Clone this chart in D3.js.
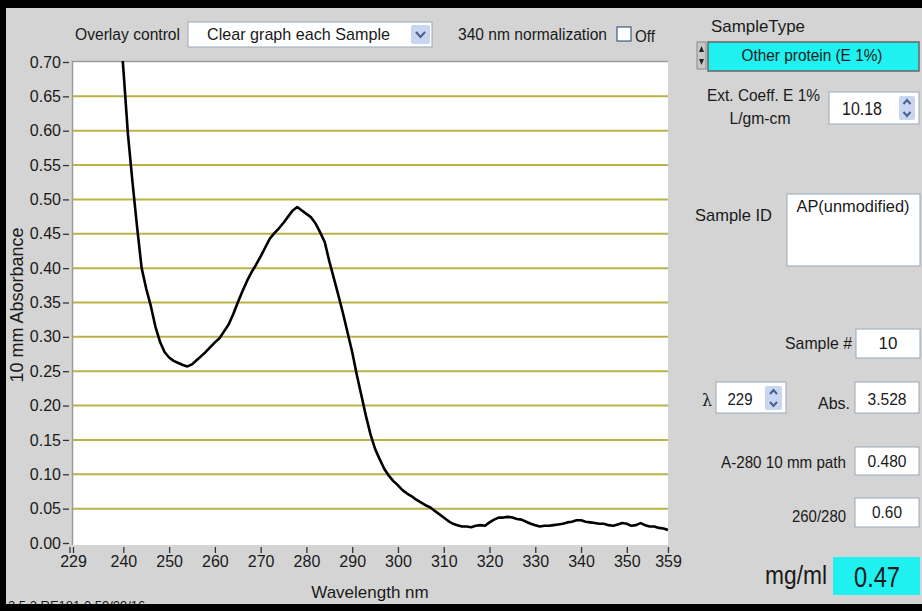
<!DOCTYPE html>
<html><head><meta charset="utf-8">
<script src="https://cdn.jsdelivr.net/npm/d3@7"></script>
<style>
html,body{margin:0;padding:0;background:#d4d4d4;}
svg{display:block;}
text{font-family:'Liberation Sans Narrow','Arial Narrow','Liberation Sans',sans-serif;fill:#1a1a1a;}
</style></head>
<body>
<svg id="c" width="922" height="611"></svg>
<script>
// ---------- data ----------
const wavelengths = [239,240,241,242,243,244,245,246,247,248,249,250,251,252,253,254,255,256,257,258,259,260,261,262,263,264,265,266,267,268,269,270,271,272,273,274,275,276,277,278,279,280,281,282,283,284,285,286,287,288,289,290,291,292,293,294,295,296,297,298,299,300,301,302,303,304,305,306,307,308,309,310,311,312,313,314,315,316,317,318,319,320,321,322,323,324,325,326,327,328,329,330,331,332,333,334,335,336,337,338,339,340,341,342,343,344,345,346,347,348,349,350,351,352,353,354,355,356,357,358,359];
const absorbance = [0.78,0.69,0.595,0.525,0.46,0.40,0.37,0.345,0.315,0.293,0.278,0.270,0.265,0.262,0.259,0.257,0.260,0.266,0.272,0.278,0.285,0.292,0.298,0.308,0.318,0.333,0.350,0.366,0.381,0.394,0.405,0.417,0.430,0.443,0.451,0.458,0.466,0.475,0.484,0.489,0.484,0.479,0.474,0.465,0.452,0.438,0.410,0.385,0.360,0.334,0.306,0.278,0.245,0.215,0.185,0.158,0.137,0.122,0.108,0.098,0.090,0.084,0.077,0.072,0.068,0.063,0.059,0.055,0.052,0.047,0.042,0.037,0.032,0.028,0.026,0.024,0.024,0.023,0.025,0.026,0.025,0.030,0.034,0.037,0.037,0.038,0.037,0.035,0.034,0.031,0.028,0.026,0.024,0.025,0.025,0.026,0.027,0.028,0.030,0.031,0.033,0.033,0.031,0.030,0.029,0.028,0.028,0.026,0.025,0.027,0.029,0.028,0.025,0.026,0.029,0.026,0.024,0.024,0.022,0.021,0.019];
const xTickValues = [229,240,250,260,270,280,290,300,310,320,330,340,350,359];
const yTickValues = [0.00,0.05,0.10,0.15,0.20,0.25,0.30,0.35,0.40,0.45,0.50,0.55,0.60,0.65,0.70];
const gridValues = [0.05,0.10,0.15,0.20,0.25,0.30,0.35,0.40,0.45,0.50,0.55,0.60,0.65];
const xDomain = [229,359];
const yDomain = [0,0.70];

const svg = d3.select('#c');
const W=922,H=611;
const P = {left:72, right:668, top:61, bottom:545};
const x = d3.scaleLinear().domain(xDomain).range([P.left+1, P.right]);
const y = d3.scaleLinear().domain(yDomain).range([543, 62]);

// background & frame
svg.append('rect').attr('width',W).attr('height',H).attr('fill','#d4d4d4');
svg.append('rect').attr('x',0).attr('y',0).attr('width',W).attr('height',8).attr('fill','#000');
svg.append('rect').attr('x',0).attr('y',0).attr('width',6).attr('height',H).attr('fill','#000');

// plot area
svg.append('rect').attr('x',P.left).attr('y',P.top).attr('width',P.right-P.left).attr('height',P.bottom-P.top).attr('fill','#fff');
svg.append('path').attr('d',`M${P.left+0.5},${P.bottom}V${P.top+0.5}H${P.right}`).attr('fill','none').attr('stroke','#9a9a9a').attr('stroke-width',1.5);

// grid
svg.append('g').selectAll('line').data(gridValues).join('line')
  .attr('x1',P.left+1).attr('x2',P.right).attr('y1',d=>y(d)).attr('y2',d=>y(d))
  .attr('stroke','#bab247').attr('stroke-width',2);

// axes
const yAxis = svg.append('g').attr('transform',`translate(${P.left-3},0)`)
  .call(d3.axisLeft(y).tickValues(yTickValues).tickFormat(d3.format('.2f')).tickSize(6).tickPadding(2));
const xAxis = svg.append('g').attr('transform',`translate(0,${P.bottom+2})`)
  .call(d3.axisBottom(x).tickValues(xTickValues).tickFormat(d3.format('d')).tickSize(6).tickPadding(3));
[yAxis,xAxis].forEach(a=>{
  a.select('.domain').remove();
  a.selectAll('line').attr('stroke','#333').attr('stroke-width',1.3);
  a.selectAll('text').attr('font-size',16).attr('fill','#1a1a1a')
    .style('font-family',"'Liberation Sans Narrow','Arial Narrow','Liberation Sans',sans-serif");
});
// double tick at left end
xAxis.append('line').attr('x1',x(229)-3).attr('x2',x(229)-3).attr('y1',0).attr('y2',6).attr('stroke','#333').attr('stroke-width',1.3);

// clip & curve
svg.append('clipPath').attr('id','clip').append('rect')
  .attr('x',P.left).attr('y',P.top).attr('width',P.right-P.left).attr('height',P.bottom-P.top);
const line = d3.line().x((d,i)=>x(wavelengths[i])).y(d=>y(d));
svg.append('path').datum(absorbance).attr('clip-path','url(#clip)')
  .attr('d',line).attr('fill','none').attr('stroke','#000').attr('stroke-width',2.6).attr('stroke-linejoin','round');

// axis titles
svg.append('text').attr('transform','translate(23,305) rotate(-90)').attr('text-anchor','middle')
  .attr('font-size',18).text('10 mm Absorbance');
svg.append('text').attr('x',370).attr('y',598).attr('text-anchor','middle').attr('font-size',17).text('Wavelength nm');

// bottom-left version text (partly hidden by the frame, as in the original)
svg.append('text').attr('x',8).attr('y',610).attr('font-size',13).text('2.5.2 RE181 0.59/09/16');
svg.append('rect').attr('x',0).attr('y',604).attr('width',W).attr('height',7).attr('fill','#000');

// ---------- controls ----------
function box(x0,y0,w,h,fill){
  return svg.append('rect').attr('x',x0).attr('y',y0).attr('width',w).attr('height',h)
    .attr('fill',fill||'#fff').attr('stroke','#9aa7b8').attr('stroke-width',1);
}
function label(x0,y0,t,size,anchor,len){
  const s = svg.append('text').attr('x',x0).attr('y',y0).attr('font-size',size||16)
    .attr('text-anchor',anchor||'start').text(t);
  if(len) s.attr('textLength',len).attr('lengthAdjust','spacingAndGlyphs');
  return s;
}
function spinner(x0,y0,w,h){
  svg.append('rect').attr('x',x0).attr('y',y0).attr('width',w).attr('height',h).attr('fill','#c8d6f2').attr('rx',2);
  const cx=x0+w/2, m=y0+h/2;
  svg.append('path').attr('d',`M${cx-3.5},${m-4}L${cx},${m-8}L${cx+3.5},${m-4}`).attr('fill','none').attr('stroke','#4a5f8a').attr('stroke-width',2);
  svg.append('path').attr('d',`M${cx-3.5},${m+4}L${cx},${m+8}L${cx+3.5},${m+4}`).attr('fill','none').attr('stroke','#4a5f8a').attr('stroke-width',2);
}

label(75,40,'Overlay control',16,'start',105);
box(188,22,244,25);
label(207,40,'Clear graph each Sample',17,'start',183);
svg.append('rect').attr('x',411).attr('y',25).attr('width',19).attr('height',19).attr('fill','#c8d6f2').attr('rx',2);
svg.append('path').attr('d','M416,32L420.5,37L425,32').attr('fill','none').attr('stroke','#4a5f8a').attr('stroke-width',2);
label(458,40,'340 nm normalization',16,'start',149);
svg.append('rect').attr('x',617).attr('y',27).attr('width',14).attr('height',14).attr('fill','#fff').attr('stroke','#1c3f6e');
label(635,42,'Off',16,'start',20);

// right panel
label(711,32,'SampleType',17,'start',94);
svg.append('rect').attr('x',697).attr('y',42).attr('width',9).attr('height',27).attr('fill','#c8c8c8').attr('stroke','#888');
svg.append('path').attr('d','M699,52L701.5,46L704,52Z M699,59L701.5,65L704,59Z').attr('fill','#222');
svg.append('rect').attr('x',708).attr('y',42).attr('width',211).attr('height',29).attr('fill','#1ff1f1').attr('stroke','#666').attr('stroke-width',1.5);
label(812,61,'Other protein (E 1%)',17,'middle',141);

label(707,101,'Ext. Coeff. E 1%',17,'start',113);
label(760,124,'L/gm-cm',17,'middle',61);
box(829,92,90,32);
label(862,115,'10.18',18,'middle',40);
spinner(899,96,16,24);

label(695,221,'Sample ID',17,'start',77);
box(787,194,133,72);
label(853,212,'AP(unmodified)',17,'middle',113);

label(852,349,'Sample #',17,'end',67);
box(856,329,64,29);
label(888,349,'10',17,'middle');

svg.append('text').attr('x',702).attr('y',406).attr('font-size',16).style('font-family','DejaVu Serif, serif').text('λ');
box(716,382,70,31);
label(740,405,'229',17,'middle',25);
spinner(765,386,17,24);
label(850,409,'Abs.',17,'end',32);
box(855,382,64,31);
label(887,405,'3.528',17,'middle',39);

label(846,468,'A-280 10 mm path',17,'end',125);
box(855,447,64,28);
label(887,467,'0.480',17,'middle',39);

label(846,522,'260/280',17,'end',54);
box(855,498,64,29);
label(887,518,'0.60',17,'middle',30);

label(827,584,'mg/ml',25,'end',62);
svg.append('rect').attr('x',833).attr('y',557).attr('width',87).attr('height',38).attr('fill','#1ff1f1');
label(877,587,'0.47',29,'middle',46);
</script>
</body></html>
